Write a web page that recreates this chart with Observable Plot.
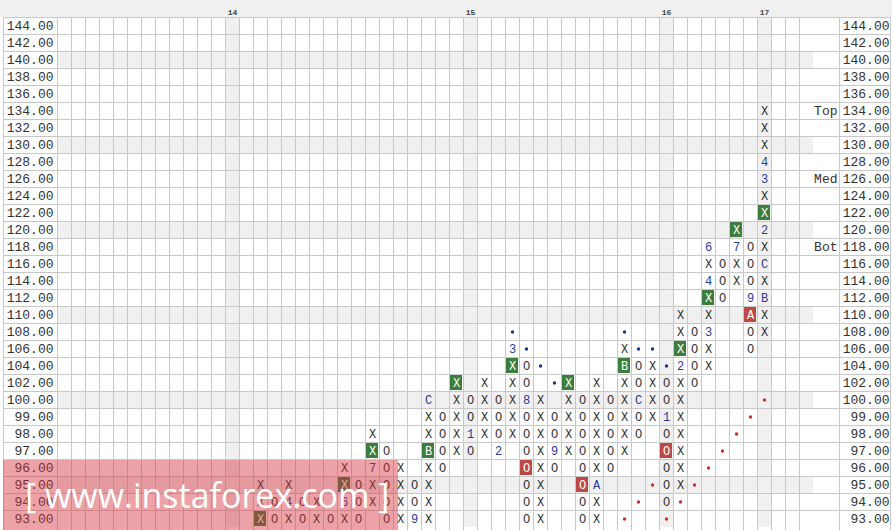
<!DOCTYPE html>
<html><head><meta charset="utf-8">
<script src="https://cdn.jsdelivr.net/npm/d3@7"></script>
<script src="https://cdn.jsdelivr.net/npm/@observablehq/plot@0.6"></script>
<style>
body{margin:0;background:#fff;}
#wrap{position:relative;width:892px;height:530px;overflow:hidden;}
#wm{position:absolute;left:3px;top:460px;width:395px;height:72px;background:rgba(213,48,57,0.45);color:#fff;font-family:"Open Sans",sans-serif;font-size:34px;line-height:70px;padding-left:22px;box-sizing:border-box;white-space:nowrap;}
</style></head><body>
<div id="wrap"><div id="chart"></div><div id="wm">[ www.instaforex.com ]</div></div>
<script>
// price levels (rows) and tick labels
const priceValues = [144,142,140,138,136,134,132,130,128,126,124,122,120,118,116,114,112,110,108,106,104,102,100,99,98,97,96,95,94,93];
const priceLabels = priceValues.map(v => v.toFixed(2));
const shadedRows = [140,130,120,110,100,95];
// year markers on top
const yearCols = [12,29,43,50];
const yearLabels = ["14","15","16","17"];
// point & figure columns
const colIndex = [14,15,16,17,18,19,20,21,22,23,24,25,26,27,28,29,30,31,32,33,34,35,36,37,38,39,40,41,42,43,44,45,46,47,48,49,50];
const colType  = ["X","O","X","O","X","O","X","O","X","O","X","O","X","O","X","O","X","O","X","O","X","O","X","O","X","O","X","O","X","O","X","O","X","O","X","O","X"];
const colLow   = [93,93,93,93,93,93,93,93,94,93,93,93,93,96,97,97,98,97,98,93,93,96,97,93,93,96,97,98,99,94,95,102,104,112,114,106,108];
const colHigh  = [95,94,95,94,94,93,96,95,98,97,96,95,100,99,102,100,102,100,106,104,100,99,102,100,102,100,106,104,104,102,110,108,118,116,120,118,134];
// month markers [column, price, label]
const monthMarks = [[16,94,"4"],[20,94,"6"],[22,96,"7"],[25,93,"9"],[26,97,"B"],[26,100,"C"],[29,98,"1"],[31,97,"2"],[32,106,"3"],[33,100,"8"],[35,97,"9"],[38,95,"A"],[40,104,"B"],[41,100,"C"],[43,99,"1"],[44,104,"2"],[46,108,"3"],[46,114,"4"],[46,118,"6"],[48,118,"7"],[49,112,"9"],[49,110,"A"],[50,112,"B"],[50,116,"C"],[50,120,"2"],[50,126,"3"],[50,128,"4"]];
const greenBoxes = [[14,93],[20,95],[22,97],[26,97],[28,102],[32,104],[36,102],[40,104],[44,106],[46,112],[48,120],[50,122]];
const redBoxes = [[33,96],[37,95],[43,97],[49,110]];
const blueDots = [[32,108],[33,106],[34,104],[35,102],[40,108],[41,106],[42,106],[43,104]];
const redDots = [[40,93],[41,94],[42,95],[43,93],[44,94],[45,95],[46,96],[47,97],[48,98],[49,99],[50,100]];
const levelNames = ["Top","Med","Bot"];
const levelPrices = [134,126,118];

const lab = v => v.toFixed(2);
const key = (c,p) => c + "|" + p;
const green = new Set(greenBoxes.map(([c,p]) => key(c,p)));
const red = new Set(redBoxes.map(([c,p]) => key(c,p)));
const months = new Map(monthMarks.map(([c,p,t]) => [key(c,p), t]));

const symbols = [];
colIndex.forEach((c, i) => {
  for (const p of priceValues) {
    if (p >= colLow[i] && p <= colHigh[i]) {
      const k = key(c,p);
      const m = months.get(k);
      const boxed = green.has(k) || red.has(k);
      symbols.push({c, p: lab(p), t: m ?? colType[i], fill: boxed ? "#fff" : (m ? "#2a3a9c" : "#333")});
    }
  }
});
const cols = d3.range(54);
const bg = [];
for (const c of cols) for (const p of priceValues) {
  if (yearCols.includes(c) || shadedRows.includes(p)) bg.push({c, p: lab(p)});
}
const font = "'Courier New', 'Liberation Mono', monospace";
const gridColor = "#c8c8c8";

const chart = Plot.plot({
  width: 892, height: 530,
  marginTop: 17, marginBottom: 3, marginLeft: 57, marginRight: 79,
  x: {type: "band", domain: cols, padding: 0, axis: null},
  y: {type: "band", domain: priceLabels, padding: 0, axis: null},
  style: {background: "linear-gradient(#f0f0f0 17px, #ffffff 17px)"},
  marks: [
    Plot.cell(bg, {x: "c", y: "p", fill: "#f0f0f0", inset: 0}),
    Plot.ruleY(priceLabels, {y: d => d, dy: -8.5, stroke: gridColor, insetLeft: -54, insetRight: -77}),
    Plot.ruleX(cols, {x: d => d, dx: -7, stroke: gridColor, insetBottom: -3}),
    Plot.frame({stroke: gridColor, insetLeft: -54, insetRight: -77, insetBottom: -3}),
    Plot.frame({stroke: gridColor, insetRight: -26, insetBottom: -3}),
    Plot.cell(greenBoxes, {x: d => d[0], y: d => lab(d[1]), fill: "#3d7d3d", inset: 1}),
    Plot.cell(redBoxes, {x: d => d[0], y: d => lab(d[1]), fill: "#bb4a46", inset: 1}),
    Plot.dot(blueDots, {x: d => d[0], y: d => lab(d[1]), r: 1.7, fill: "#1f2f8f", stroke: null}),
    Plot.dot(redDots, {x: d => d[0], y: d => lab(d[1]), r: 1.7, fill: "#d42a2a", stroke: null}),
    Plot.text(symbols, {x: "c", y: "p", text: "t", fill: "fill", fontFamily: font, fontSize: 12}),
    Plot.text(priceLabels, {y: d => d, text: d => d, frameAnchor: "left", dx: -4, textAnchor: "end", fontFamily: font, fontSize: 13, fill: "#333"}),
    Plot.text(priceLabels, {y: d => d, text: d => d, frameAnchor: "right", dx: 76, textAnchor: "end", fontFamily: font, fontSize: 13, fill: "#333"}),
    Plot.text(levelNames, {y: (d, i) => lab(levelPrices[i]), text: d => d, frameAnchor: "right", dx: 24, textAnchor: "end", fontFamily: font, fontSize: 13, fill: "#333"}),
    Plot.text(yearLabels, {x: (d, i) => yearCols[i], text: d => d, frameAnchor: "top", dy: -8.5, fontFamily: font, fontSize: 8, fontWeight: "bold", fill: "#444"})
  ]
});
document.getElementById("chart").appendChild(chart);
</script>
</body></html>
